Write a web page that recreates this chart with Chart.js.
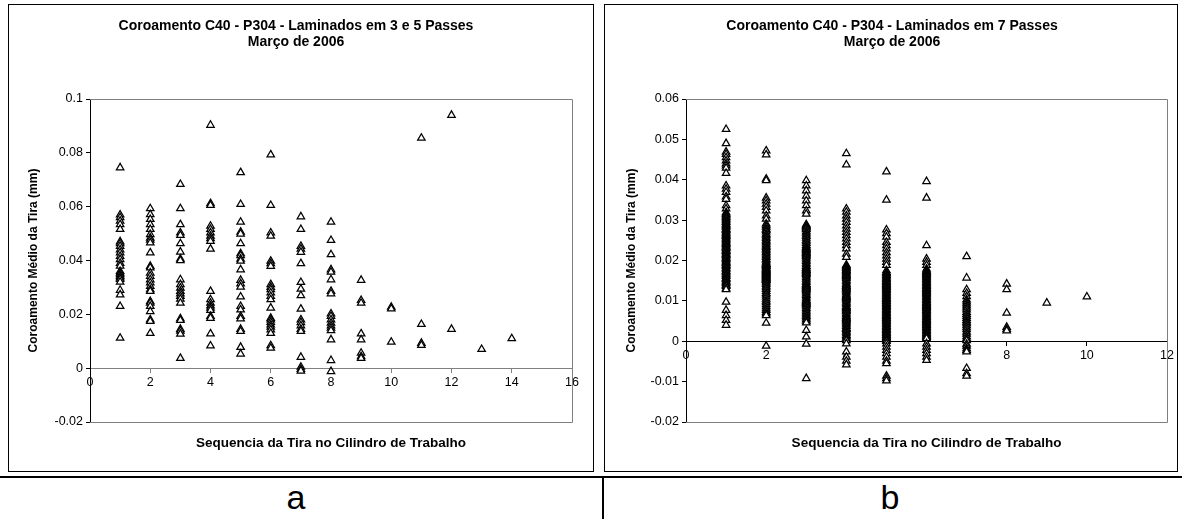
<!DOCTYPE html>
<html><head><meta charset="utf-8">
<script src="https://cdn.jsdelivr.net/npm/chart.js@4.4.1/dist/chart.umd.min.js"></script>
<style>
html,body{margin:0;padding:0;background:#fff;}
body{width:1182px;height:519px;position:relative;overflow:hidden;font-family:"Liberation Sans",Arial,sans-serif;}
.box{position:absolute;top:4px;height:466px;border:1px solid #000;}
#boxA{left:8px;width:584px;}
#boxB{left:604px;width:572px;}
.box canvas{display:block;}
#hline{position:absolute;left:0;top:476px;width:1182px;height:2px;background:#000;}
#vline{position:absolute;left:602px;top:476px;width:2px;height:43px;background:#000;}
.lab{position:absolute;top:477px;font-size:34px;line-height:40px;width:100px;text-align:center;color:#000;}
</style></head><body>
<div class="box" id="boxA"><canvas id="cA" width="584" height="466"></canvas></div>
<div class="box" id="boxB"><canvas id="cB" width="572" height="466"></canvas></div>
<div id="hline"></div><div id="vline"></div>
<div class="lab" style="left:246px">a</div>
<div class="lab" style="left:840px">b</div>
<script>
// ---- Chart a: Laminados em 3 e 5 Passes ----
const titleA = ['Coroamento C40 - P304 - Laminados em 3 e 5 Passes', 'Março de 2006'];
const seqA = [1,2,3,4,5,6,7,8,9,10,11,12,13,14];
const coroA = [
  [0.0745,0.057,0.056,0.0547,0.0534,0.0516,0.047,0.0463,0.0453,0.044,0.0429,0.0416,0.0404,0.039,0.038,0.036,0.0354,0.0348,0.0342,0.0336,0.033,0.032,0.029,0.0273,0.023,0.0112],
  [0.0593,0.0571,0.0553,0.0534,0.0516,0.0497,0.0484,0.0476,0.0466,0.0429,0.0379,0.0373,0.0354,0.0342,0.0329,0.0317,0.0304,0.0292,0.0286,0.0248,0.0242,0.023,0.0211,0.018,0.0174,0.013],
  [0.0683,0.0593,0.0534,0.0503,0.0494,0.0463,0.0432,0.0406,0.04,0.0329,0.0311,0.0298,0.0286,0.0277,0.0267,0.0257,0.0242,0.0184,0.0178,0.0145,0.0138,0.0127,0.0037],
  [0.0903,0.0612,0.0605,0.0528,0.0516,0.0503,0.0491,0.0482,0.0472,0.0443,0.0286,0.0255,0.0242,0.0232,0.0224,0.0215,0.0193,0.0186,0.0128,0.0083],
  [0.0727,0.0609,0.0543,0.0506,0.0499,0.0463,0.0426,0.0419,0.0406,0.0398,0.0366,0.0327,0.0314,0.0302,0.0265,0.023,0.0217,0.0193,0.0184,0.0145,0.0137,0.0078,0.0053],
  [0.0793,0.0605,0.0503,0.0491,0.0398,0.0389,0.0379,0.0311,0.0301,0.0292,0.028,0.0267,0.0255,0.0224,0.0186,0.018,0.0171,0.0161,0.0153,0.0143,0.013,0.0084,0.0075],
  [0.0563,0.0516,0.0453,0.0443,0.0431,0.0389,0.0319,0.0294,0.027,0.022,0.018,0.017,0.0158,0.0145,0.0137,0.0041,0.0004,-0.0004,-0.001],
  [0.0543,0.0475,0.0422,0.0366,0.0357,0.0329,0.0286,0.0277,0.0202,0.0193,0.018,0.0168,0.0158,0.0149,0.014,0.0106,0.0029,-0.0012],
  [0.0327,0.0252,0.0242,0.0128,0.0106,0.0056,0.0043,0.0037],
  [0.0227,0.0221,0.0097],
  [0.0855,0.0163,0.0093,0.0085],
  [0.094,0.0145],
  [0.007],
  [0.011]
];

// ---- Chart b: Laminados em 7 Passes ----
const titleB = ['Coroamento C40 - P304 - Laminados em 7 Passes', 'Março de 2006'];
const seqB = [1,2,3,4,5,6,7,8,9,10];
const coroB = [
  [0.0525,0.049,0.0469,0.0463,0.0455,0.0447,0.044,0.0435,0.0429,0.0416,0.0385,0.0377,0.0369,0.0358,0.0352,0.0336,0.0328,
   0.0319,0.0316,0.0314,0.0311,0.0308,0.0306,0.0302,0.0299,0.0296,0.0294,0.029,0.0288,0.0285,0.0283,0.0279,0.0277,0.0275,0.0272,0.0269,0.0267,0.0264,0.0262,0.026,0.0257,0.0254,0.0252,0.0249,0.0246,0.0243,0.0241,0.0239,0.0236,0.0233,0.0231,0.023,0.0226,0.0224,0.0223,0.022,0.0217,0.0215,0.0213,0.021,0.0207,0.0205,0.0204,0.02,0.0197,0.0195,0.0193,0.019,0.0188,0.0186,0.0182,0.018,0.0178,0.0174,0.0172,0.017,0.0166,0.0163,0.0161,0.0157,0.0155,0.0153,0.0149,0.0146,0.0144,0.014,0.0138,0.0136,0.0131,0.0128,
   0.0097,0.0077,0.0064,0.0052,0.004],
  [0.0472,0.0462,0.0402,0.0398,0.0355,0.0348,0.034,0.0332,0.0323,0.0311,0.0303,
   0.0291,0.0287,0.0283,0.0278,0.0275,0.0271,0.0266,0.0263,0.0259,0.0255,0.0251,0.0247,0.0244,0.024,0.0236,0.0233,0.0229,0.0226,0.0222,0.0219,0.0215,0.0212,0.0208,0.0204,0.0201,0.0197,0.0194,0.0191,0.019,0.0188,0.0186,0.0185,0.0182,0.018,0.0179,0.0177,0.0176,0.0174,0.0173,0.0171,0.0169,0.0168,0.0166,0.0165,0.0163,0.0161,0.016,0.0158,0.0157,0.0155,0.0154,0.0152,0.0151,0.0148,0.0145,0.0141,0.0137,0.0133,0.0129,0.0124,0.0119,0.0115,0.011,0.0105,0.01,0.0096,0.0091,0.0086,0.0081,0.0077,0.0072,0.0068,0.0064,
   0.0045,-0.0012],
  [0.0398,0.0385,0.0373,0.036,0.0348,0.0336,0.0323,0.0315,
   0.0289,0.0287,0.0285,0.0283,0.0281,0.0279,0.0277,0.0272,0.0268,0.0264,0.026,0.0256,0.0251,0.0247,0.0243,0.0238,0.0234,0.0232,0.023,0.0228,0.0226,0.0224,0.0222,0.022,0.0218,0.0216,0.0214,0.0212,0.021,0.0206,0.0202,0.0198,0.0194,0.019,0.0186,0.0182,0.018,0.0178,0.0176,0.0174,0.0172,0.017,0.0168,0.0166,0.0162,0.0158,0.0154,0.015,0.0146,0.0142,0.014,0.0138,0.0136,0.0134,0.0132,0.013,0.0128,0.0126,0.0122,0.0118,0.0114,0.011,0.0106,0.0102,0.01,0.0098,0.0096,0.0094,0.0092,0.009,0.0086,0.0082,0.0078,0.0074,0.007,0.0066,0.0062,0.0058,0.0054,0.005,0.0046,
   0.0027,0.0011,-0.0007,-0.0092],
  [0.0465,0.0437,0.0328,0.032,0.0311,0.0303,0.0295,0.0286,0.0278,0.027,0.0262,0.0254,0.0245,0.0237,0.0229,0.0216,0.0208,
   0.0189,0.0187,0.0185,0.0183,0.0181,0.0178,0.0176,0.0174,0.0172,0.017,0.0167,0.0165,0.0163,0.0161,0.0159,0.0156,0.0152,0.0149,0.0145,0.0141,0.0138,0.0136,0.0134,0.0131,0.0129,0.0127,0.0123,0.012,0.0116,0.0113,0.0111,0.0109,0.0107,0.0105,0.0102,0.0098,0.0095,0.0091,0.0087,0.0084,0.0082,0.008,0.0077,0.0075,0.0073,0.0069,0.0066,0.0062,0.0059,0.0057,0.0055,0.0053,0.0051,0.0048,0.0044,0.0041,0.0037,0.0033,0.0031,0.003,0.0026,0.0023,0.0019,0.0015,0.0012,0.0008,0.0005,0.0002,
   -0.0006,-0.0026,-0.0039,-0.0049,-0.0058],
  [0.042,0.035,0.0276,0.0267,0.0258,0.0245,0.0237,0.0229,0.022,0.0212,0.0204,0.0196,0.0188,0.0175,
   0.0171,0.0169,0.0167,0.0164,0.0162,0.016,0.0157,0.0155,0.0153,0.015,0.0148,0.0146,0.0143,0.0141,0.0139,0.0136,0.0134,0.0132,0.0129,0.0127,0.0125,0.0122,0.012,0.0118,0.0115,0.0113,0.0111,0.0108,0.0106,0.0104,0.0101,0.0099,0.0097,0.0094,0.0092,0.009,0.0087,0.0085,0.0083,0.008,0.0078,0.0076,0.0073,0.0071,0.0069,0.0066,0.0064,0.0062,0.0059,0.0057,0.0055,0.0052,0.005,0.0048,0.0045,0.0043,0.0041,0.0038,0.0036,0.0034,0.0031,0.0029,0.0027,0.0024,0.0022,0.002,0.0017,0.0015,0.0013,0.001,0.0008,0.0006,0.0003,0.0,
   -0.0006,-0.0014,-0.0022,-0.003,-0.0039,-0.0049,-0.0055,-0.0086,-0.0092,-0.0098],
  [0.0396,0.0355,0.0237,0.0204,0.0196,0.0188,0.0179,
   0.0175,0.0173,0.0171,0.0168,0.0166,0.0164,0.0161,0.0159,0.0157,0.0154,0.0152,0.015,0.0147,0.0145,0.0143,0.014,0.0138,0.0136,0.0133,0.0131,0.0129,0.0126,0.0124,0.0122,0.0119,0.0117,0.0115,0.0112,0.011,0.0108,0.0105,0.0103,0.0101,0.0098,0.0096,0.0094,0.0091,0.0089,0.0087,0.0084,0.0082,0.008,0.0077,0.0075,0.0073,0.007,0.0068,0.0066,0.0063,0.0061,0.0059,0.0056,0.0054,0.0052,0.0049,0.0047,0.0045,0.0042,0.004,0.0038,0.0035,0.0033,0.0031,0.0028,0.0026,0.0024,0.0021,0.0019,0.0017,0.0014,0.0012,0.001,0.0007,
   -0.0006,-0.0014,-0.0022,-0.003,-0.0039,-0.0047],
  [0.021,0.0157,0.0128,0.0119,0.0111,0.0103,0.0098,0.0093,0.0088,0.0083,0.0078,0.0072,0.0067,0.0062,0.0057,0.0052,0.0048,0.0044,0.0039,0.0034,0.0029,0.0023,0.0018,0.0012,0.0007,0.0002,-0.0007,-0.0012,-0.0018,-0.0022,-0.0026,-0.0067,-0.008,-0.0086],
  [0.0142,0.0128,0.007,0.0035,0.003,0.0026],
  [0.0095],
  [0.011]
];

const xTitle = 'Sequencia da Tira no Cilindro de Trabalho';
const yTitle = 'Coroamento Médio da Tira (mm)';
const F = '"Liberation Sans", Arial, sans-serif';

const frame = {
  id: 'frame',
  beforeDatasetsDraw(c) {
    const {ctx, chartArea: a} = c;
    const l = Math.round(a.left), r = Math.round(a.right) + 0.5, t = Math.round(a.top) + 0.5, b = Math.round(a.bottom) + 0.5;
    ctx.save();
    ctx.strokeStyle = '#808080';
    ctx.lineWidth = 1;
    ctx.beginPath();
    ctx.moveTo(l, t); ctx.lineTo(r, t); ctx.lineTo(r, b); ctx.lineTo(l, b);
    ctx.stroke();
    ctx.restore();
  }
};

function build(id, title, seq, coro, yMin, yMax, yStep, xMax, zeroColor, rightPad, yTitlePad) {
  const pts = [];
  seq.forEach((s, i) => coro[i].forEach(v => pts.push({x: s, y: v})));
  return new Chart(document.getElementById(id), {
    type: 'scatter',
    data: {datasets: [{
      data: pts, pointStyle: 'triangle', pointRadius: 4.3, pointHoverRadius: 4.3,
      pointBorderWidth: 1.25, borderColor: '#000', backgroundColor: '#fff'
    }]},
    options: {
      responsive: false, animation: false, events: [],
      layout: {padding: {left: 11, right: rightPad, top: 0, bottom: 0}},
      plugins: {
        legend: {display: false}, tooltip: {enabled: false},
        title: {display: true, text: title, color: '#000',
          font: {family: F, size: 14, weight: 'bold', lineHeight: 16/14},
          padding: {top: 13.5, bottom: 48.5}}
      },
      scales: {
        x: {type: 'linear', min: 0, max: xMax, position: {y: 0},
          afterFit: s => { s.height = 0; },
          ticks: {stepSize: 2, color: '#000', font: {family: F, size: 12.5}, padding: 3, maxRotation: 0, autoSkip: false},
          grid: {drawOnChartArea: false, drawTicks: true, tickLength: 4, color: zeroColor},
          border: {color: zeroColor, width: 1}},
        xt: {type: 'linear', axis: 'x', position: 'bottom', min: 0, max: 1,
          afterFit: s => { s.height = 49; },
          ticks: {display: false}, grid: {display: false}, border: {display: false},
          title: {display: true, text: xTitle, color: '#000',
            font: {family: F, size: 13.5, weight: 'bold'}, padding: {top: 0, bottom: 20}}},
        y: {type: 'linear', min: yMin, max: yMax,
          afterFit: s => { s.width = 70; },
          ticks: {stepSize: yStep, color: '#000', font: {family: F, size: 12.5}, padding: 3,
            callback: v => String(+v.toFixed(4))},
          grid: {drawOnChartArea: false, drawTicks: true, tickLength: 4, color: '#000'},
          border: {color: '#000', width: 1},
          title: {display: true, text: yTitle, color: '#000',
            font: {family: F, size: 12, weight: 'bold'}, padding: {top: yTitlePad, bottom: 0}}}
      }
    },
    plugins: [frame]
  });
}

build('cA', titleA, seqA, coroA, -0.02, 0.1, 0.02, 16, '#808080', 21, 6.5);
build('cB', titleB, seqB, coroB, -0.02, 0.06, 0.01, 12, '#000000', 9, 8);
</script>
</body></html>
